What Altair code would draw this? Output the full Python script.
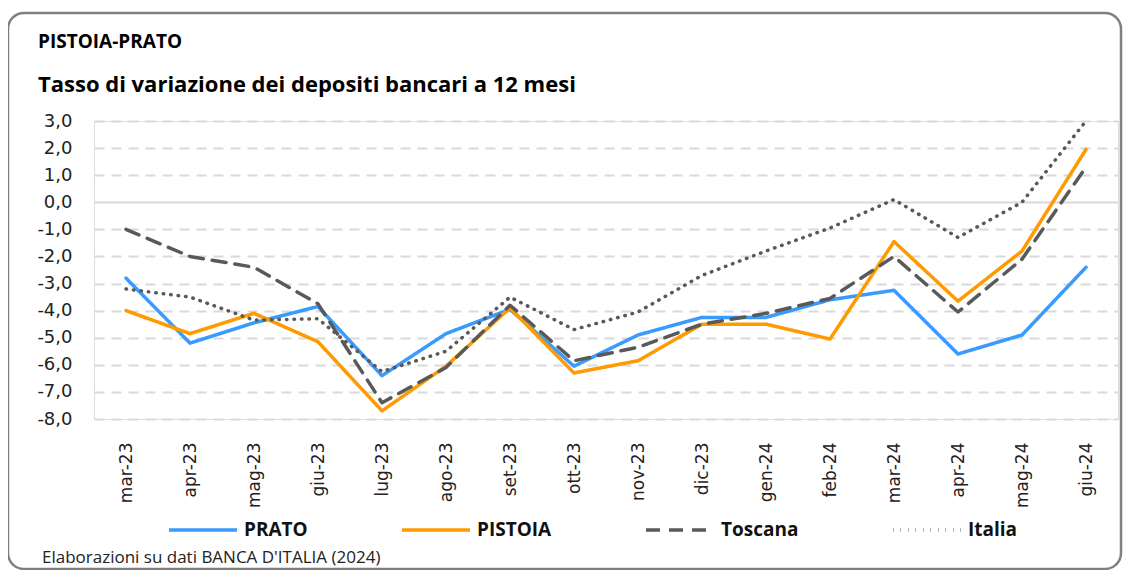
import altair as alt
import pandas as pd

months = ["mar-23", "apr-23", "mag-23", "giu-23", "lug-23", "ago-23", "set-23", "ott-23",
          "nov-23", "dic-23", "gen-24", "feb-24", "mar-24", "apr-24", "mag-24", "giu-24"]
prato = [-2.8, -5.2, -4.45, -3.85, -6.4, -4.85, -3.95, -6.05, -4.9, -4.25, -4.25, -3.6, -3.25, -5.6, -4.9, -2.4]
pistoia = [-4.0, -4.85, -4.1, -5.15, -7.7, -6.05, -3.9, -6.3, -5.85, -4.5, -4.5, -5.05, -1.45, -3.65, -1.8, 1.95]
toscana = [-1.0, -2.0, -2.4, -3.75, -7.4, -6.1, -3.8, -5.85, -5.35, -4.5, -4.1, -3.55, -2.0, -4.05, -2.1, 1.3]
italia = [-3.2, -3.5, -4.35, -4.3, -6.25, -5.5, -3.5, -4.7, -4.05, -2.7, -1.8, -0.95, 0.1, -1.3, 0.0, 3.0]

series_names = ["PRATO", "PISTOIA", "Toscana", "Italia"]
series_colors = ["#3A9BFF", "#FF9A00", "#595959", "#595959"]
series_dashes = [[1, 0], [1, 0], [14, 9], [0.5, 7]]
y_ticks = [-8, -7, -6, -5, -4, -3, -2, -1, 0, 1, 2, 3]

rows = []
for name, vals in zip(series_names, [prato, pistoia, toscana, italia]):
    for m, v in zip(months, vals):
        rows.append({"mese": m, "valore": v, "serie": name})
df = pd.DataFrame(rows)

W, H = 1024, 298
LABEL_FONT = "DejaVu Sans"
TXT_FONT = "Open Sans"

x_enc = alt.X("mese:N", sort=months, title=None,
              scale=alt.Scale(type="point", padding=0.5),
              axis=alt.Axis(labelAngle=-90, labelFont=LABEL_FONT, labelFontSize=17,
                            labelColor="#222222", labelPadding=23, ticks=False,
                            domain=False, grid=False, labelBaseline="middle"))
y_enc = alt.Y("valore:Q", title=None,
              scale=alt.Scale(domain=[-8, 3], nice=False, zero=False),
              axis=alt.Axis(values=y_ticks, ticks=False, domain=False,
                            labelFont=LABEL_FONT, labelFontSize=18, labelColor="#222222",
                            labelPadding=22,
                            labelExpr="(datum.value < 0 ? '-' : '') + replace(format(abs(datum.value), '.1f'), '.', ',')",
                            gridColor="#D9D9D9", gridWidth=2,
                            gridDash={"condition": {"test": "datum.value === 0", "value": []},
                                      "value": [10, 7]}))

lines = alt.Chart(df).mark_line(strokeCap="round", strokeJoin="round").encode(
    x=x_enc,
    y=y_enc,
    color=alt.Color("serie:N", sort=series_names,
                    scale=alt.Scale(domain=series_names, range=series_colors),
                    legend=alt.Legend(title=None, orient="none", legendX=73, legendY=373,
                                      direction="horizontal", columns=4, columnPadding=87,
                                      symbolType="stroke", symbolSize=4624,
                                      symbolStrokeWidth=3.5, labelOffset=5,
                                      labelFont=TXT_FONT, labelFontSize=19,
                                      labelFontWeight="bold", labelColor="#111111",
                                      padding=0)),
    strokeDash=alt.StrokeDash("serie:N", sort=series_names,
                              scale=alt.Scale(domain=series_names, range=series_dashes),
                              legend=None),
    strokeWidth=alt.StrokeWidth("serie:N", sort=series_names,
                                scale=alt.Scale(domain=series_names, range=[3.5, 3.5, 3.5, 3.2]),
                                legend=None),
    order=alt.Order("mese_idx:Q"),
).transform_calculate(
    mese_idx="indexof(" + str(months) + ", datum.mese)"
)

one = pd.DataFrame({"k": [0]})
border = alt.Chart(one).mark_rect(fill=None, stroke="#7F7F7F", strokeWidth=2.5,
                                  cornerRadius=16).encode(
    x=alt.value(-86), x2=alt.value(W + 3), y=alt.value(-108), y2=alt.value(H + 150))

title = alt.Chart(one).mark_text(align="left", baseline="alphabetic", font=TXT_FONT,
                                 fontSize=19, fontWeight="bold", color="#000000").encode(
    x=alt.value(-56), y=alt.value(-73), text=alt.value("PISTOIA-PRATO"))
subtitle = alt.Chart(one).mark_text(align="left", baseline="alphabetic", font=TXT_FONT,
                                    fontSize=22, fontWeight="bold", color="#000000").encode(
    x=alt.value(-56), y=alt.value(-29),
    text=alt.value("Tasso di variazione dei depositi bancari a 12 mesi"))
footer = alt.Chart(one).mark_text(align="left", baseline="alphabetic", font=TXT_FONT,
                                  fontSize=17, color="#222222").encode(
    x=alt.value(-52), y=alt.value(442),
    text=alt.value("Elaborazioni su dati BANCA D'ITALIA (2024)"))

chart = alt.layer(border, lines, title, subtitle, footer).properties(
    width=W, height=H,
    autosize=alt.AutoSizeParams(type="none"),
    padding={"left": 86, "top": 113, "right": 5, "bottom": 151},
).configure_view(stroke=None).configure(background="white")

chart.save("out.html", embed_options={"renderer": "svg", "actions": False})
